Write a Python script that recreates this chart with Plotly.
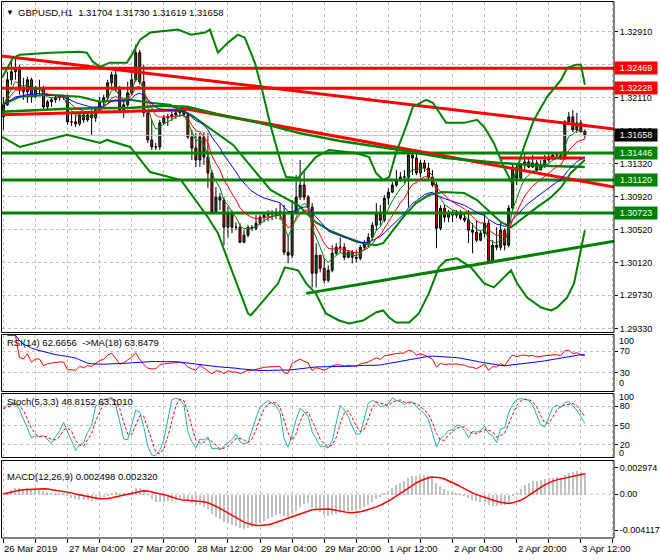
import plotly.graph_objects as go
import pandas as pd

# ---------------- data ----------------
header_text = "GBPUSD,H1  1.31704 1.31730 1.31619 1.31658"
rsi_text = "RSI(14) 62.6656  ->MA(18) 63.8479"
stoch_text = "Stoch(5,3,3) 48.8152 63.1010"
macd_text = "MACD(12,26,9) 0.002498 0.002320"

first_open = 1.31881
closes = [
    1.32027, 1.32329, 1.32426, 1.32474, 1.32208, 1.32184, 1.32329, 1.32123, 1.32232, 1.32232,
    1.32002, 1.32063, 1.32087, 1.32111, 1.32123, 1.32123, 1.31821, 1.31821, 1.31797, 1.31906,
    1.31845, 1.31906, 1.31869, 1.31966, 1.32063, 1.32111, 1.32293, 1.32390, 1.32232, 1.31966,
    1.32027, 1.32172, 1.32329, 1.32656, 1.32305, 1.31930, 1.31603, 1.31518, 1.31518, 1.31809,
    1.31869, 1.31881, 1.31906, 1.31930, 1.31942, 1.31906, 1.31639, 1.31506, 1.31361, 1.31639,
    1.31397, 1.31204, 1.30732, 1.30913, 1.30877, 1.30550, 1.30720, 1.30550, 1.30550, 1.30369,
    1.30454, 1.30550, 1.30538, 1.30599, 1.30671, 1.30696, 1.30720, 1.30708, 1.30732, 1.30732,
    1.30248, 1.30212, 1.30732, 1.30913, 1.31059, 1.30913, 1.30792, 1.29994, 1.30212, 1.30054,
    1.29909, 1.30030, 1.30236, 1.30308, 1.30308, 1.30187, 1.30248, 1.30187, 1.30175, 1.30308,
    1.30357, 1.30429, 1.30575, 1.30720, 1.30635, 1.30901, 1.30974, 1.31059, 1.31119, 1.31155,
    1.31155, 1.31422, 1.31385, 1.31204, 1.31325, 1.31264, 1.31155, 1.31059, 1.30538, 1.30780,
    1.30671, 1.30720, 1.30696, 1.30720, 1.30659, 1.30635, 1.30514, 1.30490, 1.30393, 1.30478,
    1.30599, 1.30127, 1.30333, 1.30308, 1.30514, 1.30333, 1.30780, 1.31276, 1.31143, 1.31301,
    1.31337, 1.31276, 1.31325, 1.31240, 1.31301, 1.31361, 1.31397, 1.31422, 1.31422, 1.31385,
    1.31821, 1.31881, 1.31724, 1.31809, 1.31704, 1.31658]
highs = [
    1.32123, 1.32426, 1.32547, 1.32607, 1.32511, 1.32353, 1.32365, 1.32353, 1.32256, 1.32329,
    1.32256, 1.32087, 1.32111, 1.32135, 1.32148, 1.32148, 1.32148, 1.31930, 1.31906, 1.31930,
    1.31930, 1.31942, 1.31966, 1.31990, 1.32123, 1.32148, 1.32329, 1.32426, 1.32474, 1.32256,
    1.32087, 1.32305, 1.32414, 1.32753, 1.32692, 1.32511, 1.31930, 1.31845, 1.31567, 1.31845,
    1.31906, 1.31918, 1.31942, 1.31954, 1.31990, 1.31990, 1.31930, 1.31724, 1.31688, 1.31688,
    1.31700, 1.31688, 1.31240, 1.31034, 1.30962, 1.30913, 1.30792, 1.30756, 1.30611, 1.30599,
    1.30514, 1.30575, 1.30575, 1.30696, 1.30696, 1.30732, 1.30756, 1.30756, 1.30780, 1.30841,
    1.30817, 1.30454, 1.30877, 1.31180, 1.31361, 1.31216, 1.30938, 1.30841, 1.30357, 1.30212,
    1.30175, 1.30091, 1.30333, 1.30357, 1.30429, 1.30357, 1.30272, 1.30272, 1.30272, 1.30333,
    1.30393, 1.30478, 1.30611, 1.30841, 1.30817, 1.30938, 1.31022, 1.31095, 1.31240, 1.31216,
    1.31240, 1.31482, 1.31482, 1.31458, 1.31361, 1.31361, 1.31325, 1.31240, 1.31095, 1.30817,
    1.30817, 1.30756, 1.30756, 1.30756, 1.30756, 1.30732, 1.30756, 1.30599, 1.30635, 1.30514,
    1.30720, 1.30635, 1.30393, 1.30550, 1.30599, 1.30538, 1.30817, 1.31325, 1.31325, 1.31325,
    1.31446, 1.31397, 1.31422, 1.31361, 1.31361, 1.31422, 1.31458, 1.31458, 1.31458, 1.31458,
    1.31845, 1.31942, 1.31966, 1.31930, 1.31845, 1.31730]
lows = [
    1.31724, 1.32014, 1.32269, 1.32329, 1.32148, 1.32087, 1.32051, 1.32051, 1.32111, 1.32148,
    1.31966, 1.31966, 1.32002, 1.32051, 1.32075, 1.32087, 1.31785, 1.31772, 1.31760, 1.31772,
    1.31809, 1.31821, 1.31664, 1.31821, 1.31930, 1.32002, 1.32063, 1.32244, 1.32184, 1.31942,
    1.31869, 1.32002, 1.32148, 1.32305, 1.32269, 1.31881, 1.31567, 1.31482, 1.31482, 1.31482,
    1.31785, 1.31772, 1.31833, 1.31857, 1.31881, 1.31881, 1.31615, 1.31361, 1.31276, 1.31276,
    1.31301, 1.31022, 1.30720, 1.30720, 1.30756, 1.30333, 1.30429, 1.30478, 1.30514, 1.30357,
    1.30357, 1.30429, 1.30502, 1.30514, 1.30575, 1.30611, 1.30623, 1.30635, 1.30647, 1.30635,
    1.30212, 1.30115, 1.30175, 1.30708, 1.30877, 1.30877, 1.30756, 1.29824, 1.29824, 1.30006,
    1.29873, 1.29885, 1.30006, 1.30212, 1.30236, 1.30151, 1.30175, 1.30115, 1.30127, 1.30151,
    1.30272, 1.30308, 1.30393, 1.30514, 1.30575, 1.30611, 1.30817, 1.30962, 1.31034, 1.31095,
    1.31083, 1.30792, 1.31180, 1.31180, 1.31155, 1.31216, 1.31119, 1.31034, 1.30296, 1.30514,
    1.30611, 1.30611, 1.30611, 1.30659, 1.30635, 1.30611, 1.30357, 1.30236, 1.30369, 1.30381,
    1.30429, 1.30115, 1.30115, 1.30272, 1.30272, 1.30272, 1.30308, 1.30756, 1.31059, 1.31119,
    1.31240, 1.31264, 1.31264, 1.31204, 1.31240, 1.31264, 1.31337, 1.31361, 1.31385, 1.31361,
    1.31361, 1.31797, 1.31700, 1.31688, 1.31688, 1.31619]
bars = list(range(len(closes)))
opens = [first_open] + closes[:-1]

time_tick_bars = [0, 16, 32, 48, 64, 80, 96, 112, 128, 144]
time_tick_text = ["26 Mar 2019", "27 Mar 04:00", "27 Mar 20:00", "28 Mar 12:00", "29 Mar 04:00",
                  "29 Mar 20:00", "1 Apr 12:00", "2 Apr 04:00", "2 Apr 20:00", "3 Apr 12:00"]

# 1.32510 sits behind the 1.32469 level box, so its label is not visible
price_ticks = [1.32910, 1.32510, 1.32110, 1.31710, 1.31320, 1.30920, 1.30520, 1.30120, 1.29730, 1.29330]
price_tick_text = ["1.32910", "", "1.32110", "1.31710", "1.31320", "1.30920",
                   "1.30520", "1.30120", "1.29730", "1.29330"]

red_levels = [1.32469, 1.32228]
green_levels = [1.31446, 1.31120, 1.30723]
last_price = 1.31658

rsi_ticks, rsi_tick_text = [70, 30], ["70", "30"]
stoch_ticks, stoch_tick_text = [80, 50, 20], ["80", "50", "20"]
macd_ticks, macd_tick_text = [0.002974, 0, -0.004117], ["0.002974", "0.00", "-0.004117"]

# trend lines: (bar, price) end points
red_a_bars, red_a_prices = [-0.85, 152.3], [1.32619, 1.31736]
red_b_bars, red_b_prices = [-0.85, 45.8], [1.31906, 1.31966]
red_c_bars, red_c_prices = [44.0, 152.3], [1.31990, 1.31034]
red_d_bars, red_d_prices = [124, 145], [1.31385, 1.31385]
green_t_bars, green_t_prices = [75.5, 152.3], [1.29752, 1.30381]

# band lines
bb_up_bars = [-0.35, 2.4, 4.1, 11.6, 19.1, 20.8, 22.3, 24.1, 26.6, 30.8, 32.3, 34.1, 36.6, 43.5, 46.8,
              50.3, 51.5, 53.5, 56.0, 58.5, 60.2, 62.7, 64.7, 66.7, 69.0, 70.5, 73.5, 77.9, 81.2, 87.9,
              91.2, 92.9, 94.7, 96.2, 97.9, 100.4, 102.1, 105.4, 107.1, 110.4, 114.9, 118.1, 119.9, 122.3,
              124.8, 126.8, 127.8, 129.8, 132.3, 135.6, 139.1, 140.6, 143.0, 144.0, 145]
bb_up = [1.32353, 1.32595, 1.32632, 1.32656, 1.32668, 1.32656, 1.32547, 1.32486, 1.32535, 1.32535,
         1.32656, 1.32813, 1.32898, 1.32934, 1.32873, 1.32898, 1.32934, 1.32656, 1.32777, 1.32873,
         1.32837, 1.32535, 1.32172, 1.31760, 1.31361, 1.31155, 1.31143, 1.31397, 1.31482, 1.31446,
         1.31397, 1.31204, 1.31119, 1.31155, 1.31446, 1.31760, 1.32002, 1.32087, 1.32051, 1.31809,
         1.31809, 1.31845, 1.31760, 1.31567, 1.31276, 1.31083, 1.31204, 1.31518, 1.31845, 1.32123,
         1.32329, 1.32474, 1.32511, 1.32511, 1.32269]
bb_lo_bars = [-0.35, 4.1, 15.9, 24.1, 25.8, 31.6, 36.6, 44.3, 51.0, 53.5, 56.0, 61.0, 61.7, 68.5, 70.2,
              73.5, 75.5, 77.9, 80.4, 83.7, 86.2, 89.7, 92.9, 94.7, 96.2, 97.9, 101.2, 103.6, 106.1, 108.6,
              110.4, 113.1, 116.6, 119.9, 122.3, 124.8, 126.6, 128.1, 130.6, 134.1, 136.6, 138.1, 140.6,
              142.3, 144.0, 145]
bb_lo = [1.31639, 1.31518, 1.31664, 1.31567, 1.31603, 1.31518, 1.31216, 1.31119, 1.30671, 1.30478,
         1.30151, 1.29510, 1.29486, 1.29873, 1.30066, 1.30030, 1.29873, 1.29752, 1.29510, 1.29425,
         1.29389, 1.29425, 1.29522, 1.29546, 1.29461, 1.29401, 1.29401, 1.29510, 1.29752, 1.30066,
         1.30151, 1.30175, 1.30066, 1.29873, 1.29824, 1.29945, 1.30030, 1.29873, 1.29703, 1.29582,
         1.29546, 1.29582, 1.29703, 1.29873, 1.30272, 1.30514]
bb_mid_bars = [-0.35, 4.1, 11.6, 19.1, 24.1, 31.6, 36.6, 41.5, 46.8, 50.3, 52.8, 57.3, 61.0, 66.7, 73.5,
               77.9, 81.2, 85.4, 89.7, 92.9, 94.7, 97.2, 99.7, 102.9, 106.1, 109.6, 114.9, 118.1, 121.6,
               124.1, 126.6, 129.8, 133.1, 136.6, 139.1, 141.5, 145]
bb_mid = [1.32027, 1.32123, 1.32148, 1.32123, 1.32063, 1.32087, 1.32051, 1.32027, 1.31906, 1.31785,
          1.31688, 1.31543, 1.31325, 1.30998, 1.30817, 1.30611, 1.30514, 1.30429, 1.30357, 1.30333,
          1.30357, 1.30514, 1.30671, 1.30841, 1.30938, 1.30974, 1.30962, 1.30877, 1.30720, 1.30611,
          1.30550, 1.30671, 1.30792, 1.30913, 1.31034, 1.31204, 1.31361]
long_ma_bars = [-0.35, 15.9, 32.3, 39.1, 45.8, 54.0, 64.0, 73.5, 83.9, 98.9, 110.4, 123.8, 136.3, 145]
long_ma = [1.31942, 1.31978, 1.31990, 1.32014, 1.32002, 1.31906, 1.31809, 1.31688, 1.31591, 1.31482,
           1.31385, 1.31325, 1.31288, 1.31276]

# ---------------- indicators from closes ----------------
sc = pd.Series(closes, dtype=float)
sh = pd.Series(highs, dtype=float)
sl = pd.Series(lows, dtype=float)
ma_fast = sc.ewm(span=5, adjust=False).mean()
ma_med = sc.ewm(span=10, adjust=False).mean()
ma_slow = sc.ewm(span=21, adjust=False).mean()

delta = sc.diff().fillna(0)
gain = delta.clip(lower=0)
loss = (-delta).clip(lower=0)
avg_gain = gain.ewm(alpha=1 / 14, adjust=True).mean()
avg_loss = loss.ewm(alpha=1 / 14, adjust=True).mean()
rsi = 100 - 100 / (1 + avg_gain / avg_loss)
rsi_ma = rsi.rolling(18, min_periods=1).mean()

ll = sl.rolling(5, min_periods=1).min()
hh = sh.rolling(5, min_periods=1).max()
k_line = 100 * (sc - ll).rolling(3, min_periods=1).sum() / (hh - ll).rolling(3, min_periods=1).sum()
d_line = k_line.rolling(3, min_periods=1).mean()

macd = sc.ewm(span=12, adjust=False).mean() - sc.ewm(span=26, adjust=False).mean()
macd_sig = macd.rolling(9, min_periods=1).mean()

# ---------------- figure ----------------
W, H = 660, 560
def py(p):
    return 1 - p / H

X0, X1 = 2 / W, 614 / W
XR = [-0.35, 152.27]
FONT = "Liberation Sans, Arial, sans-serif"
FS = 9
GREEN = "#008000"
RED = "#FF0000"

fig = go.Figure()

def line(xs, ys, color, width, axis="y", dash=None):
    fig.add_trace(go.Scatter(x=xs, y=ys, mode="lines", yaxis=axis,
                             xaxis={"y": "x", "y2": "x2", "y3": "x3", "y4": "x4"}[axis],
                             line=dict(color=color, width=width, dash=dash),
                             hoverinfo="skip", showlegend=False))

full = [XR[0], XR[1]]
line(full, [last_price, last_price], "#C0C0C0", 1)
for lv in red_levels:
    line(full, [lv, lv], RED, 3)
for lv in green_levels:
    line(full, [lv, lv], GREEN, 3)
line(red_a_bars, red_a_prices, RED, 3)
line(red_b_bars, red_b_prices, RED, 3)
line(red_c_bars, red_c_prices, RED, 3)
line(red_d_bars, red_d_prices, RED, 3)
line(green_t_bars, green_t_prices, GREEN, 3)
line(bb_up_bars, bb_up, GREEN, 2)
line(bb_lo_bars, bb_lo, GREEN, 2)
line(bb_mid_bars, bb_mid, GREEN, 2)
line(long_ma_bars, long_ma, GREEN, 2.5)
line(bars, ma_slow, "#0000FF", 1)
line(bars, ma_med, RED, 1)
line(bars, ma_fast, GREEN, 1)

fig.add_trace(go.Candlestick(
    x=bars, open=opens, high=highs, low=lows, close=closes,
    increasing=dict(line=dict(color="#000000", width=1), fillcolor="#1E5C1E"),
    decreasing=dict(line=dict(color="#000000", width=1), fillcolor="#E00000"),
    whiskerwidth=0, hoverinfo="skip", showlegend=False))

# RSI
line(bars, rsi, RED, 1, axis="y2")
line(bars, rsi_ma, "#0000FF", 1, axis="y2")
# Stochastic
line(bars, k_line, "#20B2AA", 1, axis="y3")
line(bars, d_line, RED, 1, axis="y3", dash="3px,2px")
# MACD
fig.add_trace(go.Bar(x=bars, y=macd, xaxis="x4", yaxis="y4",
                     marker=dict(color="#C0C0C0", line=dict(width=0)),
                     width=0.3, hoverinfo="skip", showlegend=False))
line(bars, macd_sig, RED, 1.5, axis="y4")

grid_bars = list(range(0, 153, 8))
xcommon = dict(domain=[X0, X1], range=XR, tickmode="array", tickvals=grid_bars, showticklabels=False,
               showgrid=True, gridcolor="#C0C0C0", griddash="3px,3px", gridwidth=1, zeroline=False,
               showline=False, ticks="", fixedrange=True)
ycommon = dict(side="right", showline=False, zeroline=False, ticks="outside", ticklen=3, tickcolor="#000",
               tickfont=dict(family=FONT, size=FS, color="#000"), gridcolor="#C0C0C0", griddash="3px,3px",
               fixedrange=True, automargin=False)

ymain = [1.29280, 1.33273]
fig.update_layout(
    width=W, height=H, margin=dict(l=0, r=0, t=0, b=0, pad=0),
    paper_bgcolor="white", plot_bgcolor="white", showlegend=False, bargap=0,
    xaxis=dict(xcommon, anchor="y", rangeslider=dict(visible=False)),
    xaxis2=dict(xcommon, anchor="y2", matches="x"),
    xaxis3=dict(xcommon, anchor="y3", matches="x"),
    xaxis4=dict(xcommon, anchor="y4", matches="x", ticks="outside", ticklen=4, tickcolor="#000"),
    yaxis=dict(ycommon, anchor="x", domain=[py(332.5), py(1.5)], range=ymain,
               tickvals=price_ticks, ticktext=price_tick_text, showgrid=True),
    yaxis2=dict(ycommon, anchor="x2", domain=[py(391.5), py(334.5)], range=[-5, 101],
                tickvals=rsi_ticks, ticktext=rsi_tick_text, showgrid=True),
    yaxis3=dict(ycommon, anchor="x3", domain=[py(457.5), py(393.5)], range=[0, 100],
                tickvals=stoch_ticks, ticktext=stoch_tick_text, showgrid=True),
    yaxis4=dict(ycommon, anchor="x4", domain=[py(538), py(460.5)], range=[-0.0050, 0.00381],
                tickvals=macd_ticks, ticktext=macd_tick_text, showgrid=False),
)

shapes = []
for (t, b) in [(1.5, 332.5), (334.5, 391.5), (393.5, 457.5), (460.5, 538)]:
    shapes.append(dict(type="rect", xref="paper", yref="paper", x0=1.5 / W, x1=614 / W,
                       y0=py(b), y1=py(t), line=dict(color="#000", width=1), fillcolor="rgba(0,0,0,0)"))
shapes.append(dict(type="line", xref="paper", yref="y4", x0=X0, x1=X1, y0=0, y1=0,
                   line=dict(color="#C0C0C0", width=1, dash="3px,3px"), layer="below"))
fig.update_layout(shapes=shapes)

ann = []
def text(x, y, s, size=FS, color="#000", xanchor="left", **kw):
    ann.append(dict(x=x, y=y, xref="paper", yref="paper", text=s, showarrow=False, xanchor=xanchor,
                    yanchor="middle", borderpad=0, font=dict(family=FONT, size=size, color=color), **kw))

text(5 / W, py(12), "▼", size=8)
text(17 / W, py(12), header_text, size=9.5)
text(6 / W, py(342), rsi_text, size=9.5)
text(6 / W, py(401), stoch_text, size=9.5)
text(6 / W, py(476), macd_text, size=9.5)
text(618 / W, py(341), "100")
text(618 / W, py(383), "0")
text(618 / W, py(397), "100")
text(618 / W, py(453), "0")

for b, s in zip(time_tick_bars, time_tick_text):
    ann.append(dict(x=b, y=py(548), xref="x4", yref="paper", text=s, showarrow=False, xanchor="left",
                    yanchor="middle", borderpad=0, font=dict(family=FONT, size=9.5, color="#000")))

for lv, col in [(red_levels[0], RED), (red_levels[1], RED), (last_price, "#000000"),
                (green_levels[0], GREEN), (green_levels[1], GREEN), (green_levels[2], GREEN)]:
    ann.append(dict(x=614 / W, y=lv, xref="paper", yref="y", text=f"{lv:.5f}", showarrow=False,
                    xanchor="left", yanchor="middle", bgcolor=col, borderpad=1, width=40, align="center",
                    font=dict(family=FONT, size=FS, color="#FFFFFF")))
fig.update_layout(annotations=ann)

fig.write_html("out.html", config={"displayModeBar": False},
               post_script="document.body.style.margin='0';document.body.style.overflow='hidden';")
